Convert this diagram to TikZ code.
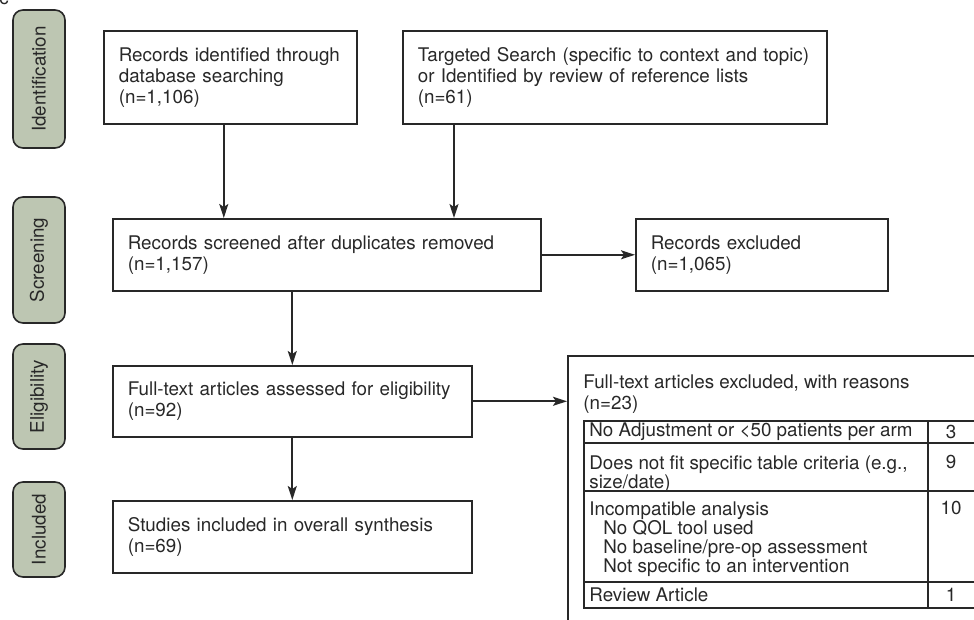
\documentclass[tikz,border=0pt]{standalone}
\usepackage{fontspec}
\setmainfont{TeX Gyre Heros}
\usetikzlibrary{arrows.meta}
\definecolor{lbl}{RGB}{189,198,178}
\definecolor{ink}{RGB}{40,40,40}
\tikzset{%
  box/.style={draw=ink,line width=0.8pt,anchor=north west,align=left,
    inner xsep=7.5pt,inner ysep=0pt,text=ink,font=\sz},
  stage/.style={draw=ink,fill=lbl,rounded corners=5pt,line width=0.8pt,
    rotate=90,inner sep=0pt,text=ink,font=\sz,minimum height=26pt},
  arr/.style={-{Stealth[length=7pt,width=4.5pt,inset=1.5pt]},draw=ink,line width=0.85pt},
  cell/.style={anchor=north west,align=left,inner sep=0pt,text=ink,font=\tsz}
}
\newcommand\sz{\fontsize{9.4}{10.5}\selectfont}
\newcommand\tsz{\fontsize{9.4}{9.6}\selectfont}

\begin{document}
\begin{tikzpicture}[x=0.5pt,y=-0.5pt]
  \useasboundingbox (0,0) rectangle (974,620);
  \clip (0,0) rectangle (974,620);
  \node[inner sep=0pt,anchor=south west,text=ink,font=\sz] (panel) at (-1,5) {c};
  %% stages
  \node[stage,minimum width=69pt] (sid) at (39,79) {Identification};
  \node[stage,minimum width=63pt] (sscr) at (39,260) {Screening};
  \node[stage,minimum width=52.5pt] (selg) at (39,396.5) {Eligibility};
  \node[stage,minimum width=47.5pt] (sinc) at (39,529.5) {Included};
  %% flow boxes
  \node[box,text width=111.5pt,minimum height=46.5pt] (A) at (103,30)
    {Records identified through\\database searching\\(n=1,106)};
  \node[box,text width=197pt,minimum height=46.5pt] (B) at (402,30)
    {Targeted Search (specific to context and topic)\\or Identified by review of reference lists\\(n=61)};
  \node[box,text width=199pt,minimum height=36pt] (C) at (112,218)
    {Records screened after duplicates removed\\(n=1,157)};
  \node[box,text width=111pt,minimum height=36pt] (D) at (635,218)
    {Records excluded\\(n=1,065)};
  \node[box,text width=164.5pt,minimum height=35.5pt] (E) at (112,365)
    {Full-text articles assessed for eligibility\\(n=92)};
  \node[box,text width=164.5pt,minimum height=36pt] (G) at (112,500)
    {Studies included in overall synthesis\\(n=69)};
  \node[draw=ink,line width=0.8pt,anchor=north west,inner sep=0pt,
    minimum width=216.5pt,minimum height=142.5pt] (excl) at (567,355) {};
  %% arrows
  \draw[arr] ([xshift=-3.25pt]A.south) -- ([xshift=-3.25pt]A.south |- C.north);
  \draw[arr] ([xshift=26pt]B.south west) -- ([xshift=26pt]B.south west |- C.north);
  \draw[arr] (C.east) -- (D.west);
  \draw[arr] (C.south -| E.north) -- (E.north);
  \draw[arr] (E.south) -- (G.north);
  \draw[arr] (E.east) -- (E.east -| excl.west);
  %% exclusion reasons
  \node[cell,font=\sz] (xt) at (583,374) {Full-text articles excluded, with reasons\\(n=23)};
  \draw[ink,line width=0.8pt] (584,421) rectangle (990,608);
  \draw[ink,line width=0.8pt] (584,443) -- (990,443);
  \draw[ink,line width=0.8pt] (584,491) -- (990,491);
  \draw[ink,line width=0.8pt] (584,582) -- (990,582);
  \draw[ink,line width=0.8pt] (928,421) -- (928,608);
  \node[cell,anchor=west] (r1) at (589,432) {No Adjustment or <50 patients per arm};
  \node[cell] (r2) at (589,455) {Does not fit specific table criteria (e.g.,\\size/date)};
  \node[cell] (r3) at (589,501) {Incompatible analysis\\
    \hspace*{7pt}No QOL tool used\\
    \hspace*{7pt}No baseline/pre-op assessment\\
    \hspace*{7pt}Not specific to an intervention};
  \node[cell,anchor=west] (r4) at (589,595) {Review Article};
  \node[cell,anchor=center] (n1) at (951,432) {3};
  \node[cell,anchor=north] (n2) at (951,455) {9};
  \node[cell,anchor=north] (n3) at (951,501) {10};
  \node[cell,anchor=center] (n4) at (951,595) {1};
\end{tikzpicture}
\end{document}
